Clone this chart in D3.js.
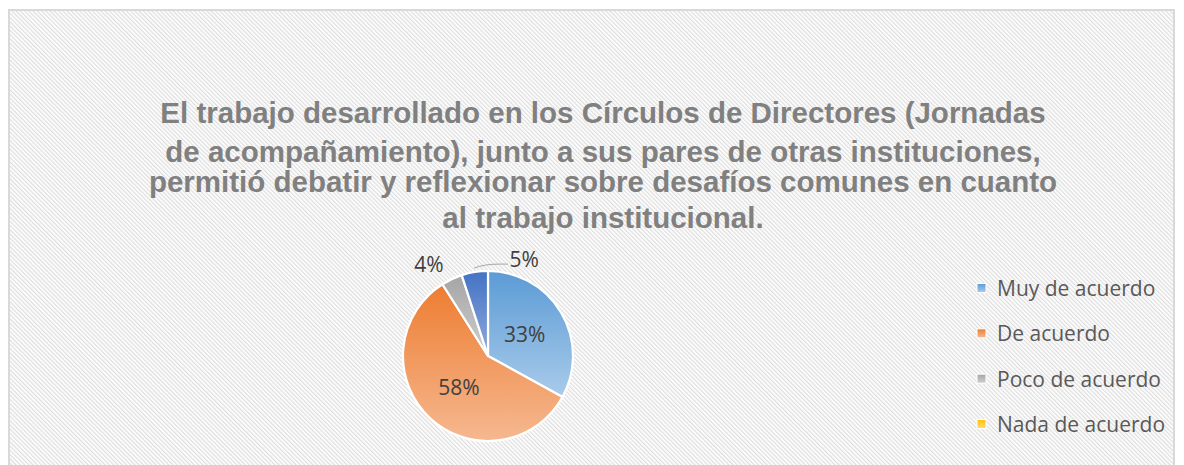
<!DOCTYPE html>
<html>
<head>
<meta charset="utf-8">
<title>Círculos de Directores</title>
<script src="https://d3js.org/d3.v7.min.js"></script>
<style>
    html, body { margin: 0; background: #fff; }
    svg { display: block; }
</style>
</head>
<body>
<svg id="chart" width="1184" height="465"></svg>
<script>
    // data
    var categories = ["Muy de acuerdo", "De acuerdo", "Poco de acuerdo", "Nada de acuerdo", "Sin respuesta"]
    var values = [33, 58, 4, 0, 5]
    var legendCount = 4   // the last category is not in the legend
    var titleLines = [
        "El trabajo desarrollado en los Círculos de Directores (Jornadas",
        "de acompañamiento), junto a sus pares de otras instituciones,",
        "permitió debatir y reflexionar sobre desafíos comunes en cuanto",
        "al trabajo institucional."
    ]
    var darkColors = ["#5B9BD5", "#ED7D31", "#A5A5A5", "#FFC000", "#4472C4"]
    var lightColors = ["#A9CBEA", "#F6B890", "#CFCFCF", "#FFDC75", "#8FAADC"]

    var width = 1184, height = 465
    var svg = d3.select("#chart")
    var defs = svg.append("defs")

    // hatched background
    var pat = defs.append("pattern")
        .attr("id", "hatch")
        .attr("patternUnits", "userSpaceOnUse")
        .attr("width", 3).attr("height", 3)
        .attr("patternTransform", "rotate(-45)")
    pat.append("rect").attr("width", 3).attr("height", 3).attr("fill", "#ffffff")
    pat.append("rect").attr("width", 1.3).attr("height", 3).attr("fill", "#dedede")

    svg.append("rect")
        .attr("x", 9).attr("y", 10)
        .attr("width", 1165).attr("height", 470)
        .attr("fill", "url(#hatch)")
        .attr("stroke", "#d9d9d9")
        .attr("stroke-width", 2)

    // title
    var titleBaselines = [123, 162, 192, 228]
    svg.append("g").selectAll("text")
        .data(titleLines)
        .enter().append("text")
        .attr("x", 603)
        .attr("y", function(d, i) { return titleBaselines[i] })
        .attr("text-anchor", "middle")
        .style("font-family", "'Liberation Sans', Arial, sans-serif")
        .style("font-weight", "bold")
        .style("font-size", "29.5px")
        .attr("fill", "#808080")
        .text(function(d) { return d })

    // gradients per slice
    categories.forEach(function(c, i) {
        var g = defs.append("linearGradient")
            .attr("id", "grad" + i)
            .attr("x1", 0).attr("y1", 0).attr("x2", 0).attr("y2", 1)
        g.append("stop").attr("offset", "0%").attr("stop-color", darkColors[i])
        g.append("stop").attr("offset", "100%").attr("stop-color", lightColors[i])
    })

    var cx = 488, cy = 356, r = 85
    var pie = d3.pie().sort(null).value(function(d) { return d })
    var arcs = pie(values)
    var arc = d3.arc().innerRadius(0).outerRadius(r)

    var pieG = svg.append("g").attr("transform", "translate(" + cx + "," + cy + ")")
    pieG.selectAll("path")
        .data(arcs)
        .enter().append("path")
        .filter(function(d) { return d.data > 0 })
        .attr("d", arc)
        .attr("fill", function(d) { return "url(#grad" + d.index + ")" })
        .attr("stroke", "#ffffff")
        .attr("stroke-width", 2.2)
        .attr("stroke-linejoin", "round")

    function polar(angle, rad) {
        return [Math.sin(angle) * rad, -Math.cos(angle) * rad]
    }

    var labelFont = "'Open Sans', 'Noto Sans', sans-serif"
    arcs.forEach(function(d) {
        if (d.data <= 0) return
        var mid = (d.startAngle + d.endAngle) / 2
        var txt = d.data + "%"
        var p
        if (d.data >= 10) {
            p = polar(mid, r * 0.5)
        } else if (d.index == 2) {
            p = polar(mid - 0.13, r * 1.29)
        } else {
            // label pulled aside with a leader line
            var s = polar(mid, r + 4)
            var k = [s[0] + 25, s[1] - 4]
            var e = [k[0] + 9, k[1]]
            pieG.append("path")
                .attr("d", "M" + s + "Q" + [s[0] + 10, k[1]] + " " + k + "L" + e)
                .attr("fill", "none")
                .attr("stroke", "#a6a6a6")
                .attr("stroke-width", 1)
            p = [e[0] + 16, e[1] - 5]
        }
        pieG.append("text")
            .attr("x", p[0]).attr("y", p[1])
            .attr("text-anchor", "middle")
            .attr("dominant-baseline", "central")
            .style("font-family", labelFont)
            .style("font-size", "21px")
            .attr("fill", "#404040")
            .text(txt)
    })

    // legend
    var legendData = categories.slice(0, legendCount)
    var ly = d3.scalePoint().domain(legendData).range([288, 424])
    var leg = svg.append("g")
    leg.selectAll("rect")
        .data(legendData)
        .enter().append("rect")
        .attr("x", 977)
        .attr("y", function(d) { return ly(d) - 4.5 })
        .attr("width", 9).attr("height", 9)
        .attr("fill", function(d, i) { return "url(#grad" + i + ")" })
        .attr("stroke", "#ffffff")
        .attr("stroke-width", 1)
    leg.selectAll("text")
        .data(legendData)
        .enter().append("text")
        .attr("x", 997)
        .attr("y", function(d) { return ly(d) })
        .attr("dominant-baseline", "central")
        .style("font-family", labelFont)
        .style("font-size", "21px")
        .attr("fill", "#595959")
        .text(function(d) { return d })
</script>
</body>
</html>
